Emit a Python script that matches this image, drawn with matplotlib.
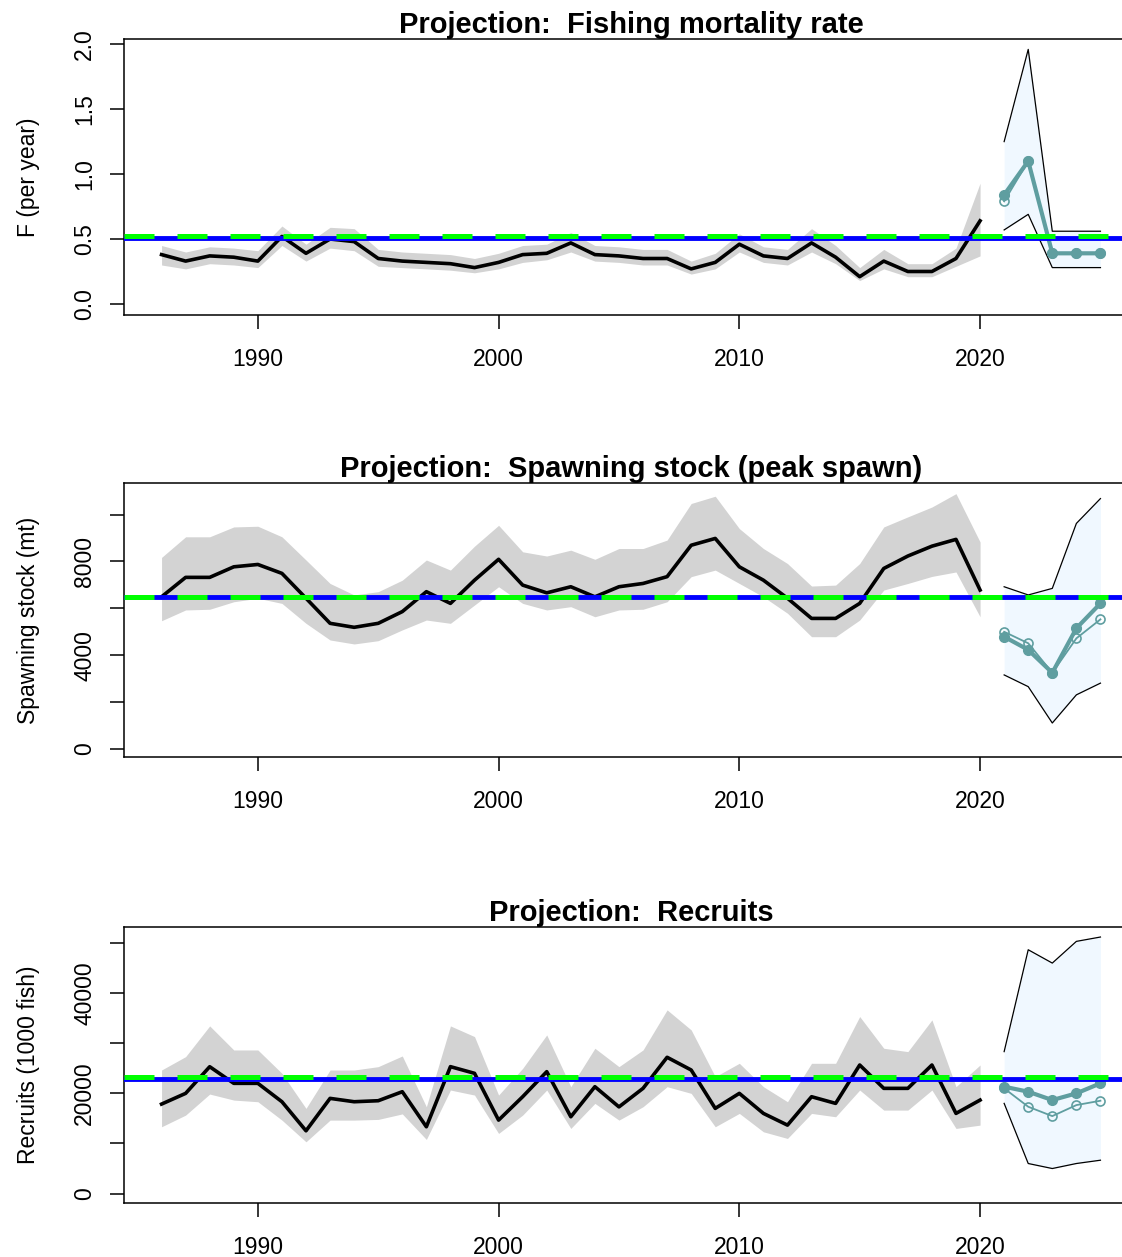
import matplotlib
matplotlib.use('Agg')
import matplotlib.pyplot as plt

plt.rcParams['font.family'] = ['Liberation Sans', 'DejaVu Sans']

# ---- data ---------------------------------------------------------------
years = list(range(1986, 2021))
proj_years = list(range(2021, 2026))

# fishing mortality
f_est = [0.38, 0.33, 0.37, 0.36, 0.33, 0.52, 0.39, 0.50, 0.48, 0.35,
         0.33, 0.32, 0.31, 0.28, 0.32, 0.38, 0.39, 0.47, 0.38, 0.37,
         0.35, 0.35, 0.27, 0.32, 0.46, 0.37, 0.35, 0.47, 0.36, 0.21,
         0.33, 0.25, 0.25, 0.35, 0.64]
f_hi = [0.45, 0.40, 0.44, 0.43, 0.41, 0.60, 0.46, 0.59, 0.58, 0.42,
        0.40, 0.39, 0.38, 0.35, 0.39, 0.45, 0.46, 0.55, 0.45, 0.44,
        0.42, 0.42, 0.33, 0.39, 0.54, 0.44, 0.42, 0.58, 0.45, 0.28,
        0.42, 0.31, 0.31, 0.43, 0.93]
f_lo = [0.30, 0.27, 0.31, 0.30, 0.28, 0.45, 0.33, 0.43, 0.41, 0.29,
        0.28, 0.27, 0.26, 0.24, 0.27, 0.32, 0.34, 0.40, 0.33, 0.32,
        0.30, 0.30, 0.23, 0.27, 0.40, 0.32, 0.30, 0.40, 0.31, 0.18,
        0.27, 0.21, 0.21, 0.29, 0.37]
f_proj_med = [0.84, 1.10, 0.39, 0.39, 0.39]
f_proj_det = [0.79, 1.10, 0.39, 0.39, 0.39]
f_proj_hi = [1.25, 1.96, 0.56, 0.56, 0.56]
f_proj_lo = [0.57, 0.69, 0.28, 0.28, 0.28]
f_ref_blue = 0.505
f_ref_green = 0.52

# spawning stock
ssb_est = [6490, 7320, 7320, 7770, 7870, 7490, 6430, 5360, 5190, 5360,
           5860, 6710, 6210, 7200, 8090, 6990, 6660, 6920, 6490, 6920,
           7060, 7350, 8690, 8980, 7770, 7200, 6430, 5570, 5570, 6210,
           7700, 8230, 8650, 8940, 6780]
ssb_hi = [8170, 9050, 9050, 9470, 9500, 9050, 8060, 7060, 6570, 6710,
          7200, 8060, 7630, 8650, 9540, 8410, 8230, 8480, 8090, 8550,
          8550, 8910, 10470, 10780, 9400, 8550, 7910, 6950, 6990, 7910,
          9470, 9900, 10320, 10890, 8830]
ssb_lo = [5470, 5930, 5960, 6280, 6430, 6210, 5360, 4650, 4480, 4620,
          5080, 5500, 5360, 6140, 6920, 6210, 5930, 6070, 5640, 5930,
          5960, 6280, 7350, 7630, 7060, 6490, 5790, 4790, 4790, 5500,
          6780, 7060, 7360, 7550, 5640]
ssb_proj_med = [4790, 4230, 3250, 5150, 6210]
ssb_proj_det = [5000, 4510, 3250, 4720, 5530]
ssb_proj_hi = [6920, 6570, 6850, 9620, 10680]
ssb_proj_lo = [3160, 2660, 1110, 2310, 2810]
ssb_ref_blue = 6470
ssb_ref_green = 6470

# recruits
rec_est = [17860, 20000, 25320, 22000, 22000, 18330, 12530, 19000, 18330, 18530,
           20330, 13330, 25330, 24000, 14660, 19330, 24330, 15330, 21330, 17300,
           21000, 27200, 24660, 17000, 20000, 16000, 13660, 19330, 18000, 25660,
           21000, 21000, 25660, 16000, 18660]
rec_hi = [24660, 27330, 33460, 28660, 28660, 24000, 17000, 24660, 24660, 25330,
          27460, 17330, 33460, 31330, 19660, 24990, 31660, 21330, 29000, 25330,
          28660, 36660, 32660, 23330, 26000, 21330, 18330, 26000, 26000, 35330,
          29000, 28330, 34660, 21330, 25660]
rec_lo = [13330, 15660, 19860, 18660, 18330, 14660, 10330, 14660, 14660, 14800,
          15900, 10800, 20660, 19660, 12000, 15660, 20660, 13000, 18000, 14660,
          17330, 21330, 20000, 13330, 16000, 12330, 11000, 16000, 15330, 20660,
          16660, 16660, 20660, 13000, 13660]
rec_proj_med = [21330, 20330, 18660, 20000, 22000]
rec_proj_det = [21000, 17330, 15460, 17660, 18530]
rec_proj_hi = [28330, 48660, 46000, 50330, 51200]
rec_proj_lo = [18000, 6000, 5000, 6000, 6660]
rec_ref_blue = 22800
rec_ref_green = 23330

# ---- style --------------------------------------------------------------
FONT_SIZE = 16.5
TITLE_SIZE = 21
COLOR_BAND = 'lightgray'
COLOR_PROJ_FILL = 'aliceblue'
COLOR_PROJ = 'cadetblue'
XLIM = (1984.44, 2026.56)

panels = [
    dict(title='Projection:  Fishing mortality rate', ylabel='F (per year)',
         est=f_est, lo=f_lo, hi=f_hi,
         med=f_proj_med, det=f_proj_det, plo=f_proj_lo, phi=f_proj_hi,
         blue=f_ref_blue, green=f_ref_green,
         ylim=(-0.085, 2.04), yticks=[0.0, 0.5, 1.0, 1.5, 2.0],
         ylabels=['0.0', '0.5', '1.0', '1.5', '2.0'], top=39, bottom=315),
    dict(title='Projection:  Spawning stock (peak spawn)', ylabel='Spawning stock (mt)',
         est=ssb_est, lo=ssb_lo, hi=ssb_hi,
         med=ssb_proj_med, det=ssb_proj_det, plo=ssb_proj_lo, phi=ssb_proj_hi,
         blue=ssb_ref_blue, green=ssb_ref_green,
         ylim=(-340, 11344), yticks=[0, 2000, 4000, 6000, 8000, 10000],
         ylabels=['0', '', '4000', '', '8000', ''], top=483, bottom=757),
    dict(title='Projection:  Recruits', ylabel='Recruits (1000 fish)',
         est=rec_est, lo=rec_lo, hi=rec_hi,
         med=rec_proj_med, det=rec_proj_det, plo=rec_proj_lo, phi=rec_proj_hi,
         blue=rec_ref_blue, green=rec_ref_green,
         ylim=(-1880, 53200), yticks=[0, 10000, 20000, 30000, 40000, 50000],
         ylabels=['0', '', '20000', '', '40000', ''], top=927, bottom=1203),
]

W, H = 1122, 1257
fig = plt.figure(figsize=(W / 100, H / 100), dpi=100)

left_px, right_px = 124, 1138
for p in panels:
    ax = fig.add_axes([left_px / W, 1 - p['bottom'] / H,
                       (right_px - left_px) / W, (p['bottom'] - p['top']) / H])

    # historical estimate with band
    ax.fill_between(years, p['lo'], p['hi'], color=COLOR_BAND, lw=0, zorder=1)
    ax.plot(years, p['est'], color='black', lw=2.6, zorder=2)

    # projection
    ax.fill_between(proj_years, p['plo'], p['phi'], color=COLOR_PROJ_FILL, lw=0, zorder=1)
    ax.plot(proj_years, p['phi'], color='black', lw=0.9, zorder=2)
    ax.plot(proj_years, p['plo'], color='black', lw=0.9, zorder=2)
    ax.plot(proj_years, p['det'], color=COLOR_PROJ, lw=1.3, marker='o',
            mfc='none', ms=6.5, mew=1.2, zorder=3)
    ax.plot(proj_years, p['med'], color=COLOR_PROJ, lw=3.0, marker='o',
            ms=7, zorder=3)

    # reference lines
    ax.axhline(p['blue'], color='blue', lw=3.5, zorder=4)
    ax.axhline(p['green'], color='lime', lw=3.6, dashes=(6, 4.6), zorder=5)

    ax.set_xlim(*XLIM)
    ax.set_ylim(*p['ylim'])
    ax.set_xticks([1990, 2000, 2010, 2020])
    ax.set_yticks(p['yticks'])
    ax.set_yticklabels(p['ylabels'])
    ax.tick_params(direction='out', length=10, width=1.1, labelsize=FONT_SIZE)
    ax.tick_params(axis='x', pad=14)
    ax.tick_params(axis='y', pad=10, labelrotation=90)
    for lab in ax.get_yticklabels():
        lab.set_va('center')
    for s in ax.spines.values():
        s.set_linewidth(1.1)

    ax.set_title(p['title'], fontsize=TITLE_SIZE, fontweight='bold', pad=4)
    fig.text(29 / W, 1 - (p['top'] + p['bottom']) / 2 / H, p['ylabel'],
             rotation=90, ha='center', va='center', fontsize=FONT_SIZE)

fig.savefig('out.png', dpi=100)
